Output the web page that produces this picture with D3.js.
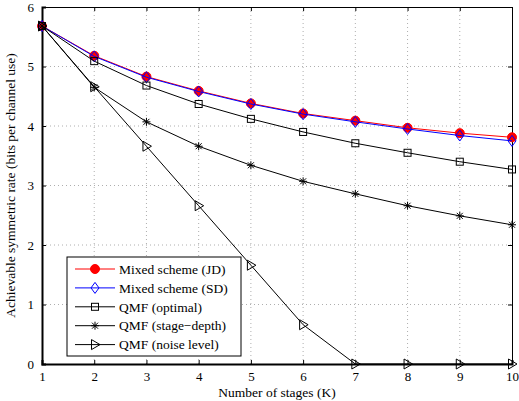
<!DOCTYPE html>
<html>
<head>
<meta charset="utf-8">
<script src="https://cdn.jsdelivr.net/npm/d3@7"></script>
<style>
  body { margin: 0; background: #fff; }
  svg { display: block; font-family: "Liberation Serif", "Times New Roman", serif; }
</style>
</head>
<body>
<svg id="chart" width="519" height="401"></svg>
<script>
const stages = [1, 2, 3, 4, 5, 6, 7, 8, 9, 10];
const mixedJD = [5.68, 5.18, 4.83, 4.59, 4.38, 4.21, 4.09, 3.97, 3.88, 3.81];
const mixedSD = [5.68, 5.17, 4.82, 4.58, 4.37, 4.20, 4.07, 3.95, 3.84, 3.75];
const qmfOptimal = [5.68, 5.09, 4.68, 4.37, 4.12, 3.90, 3.71, 3.55, 3.40, 3.27];
const qmfStageDepth = [5.68, 4.65, 4.07, 3.66, 3.34, 3.07, 2.86, 2.66, 2.49, 2.34];
const qmfNoiseLevel = [5.68, 4.66, 3.66, 2.66, 1.66, 0.66, 0, 0, 0, 0];
const yTicks = [0, 1, 2, 3, 4, 5, 6];

const series = [
  { name: 'Mixed scheme (JD)', values: mixedJD, color: 'red', marker: 'circle' },
  { name: 'Mixed scheme (SD)', values: mixedSD, color: 'blue', marker: 'diamond' },
  { name: 'QMF (optimal)', values: qmfOptimal, color: 'black', marker: 'square' },
  { name: 'QMF (stage\u2212depth)', values: qmfStageDepth, color: 'black', marker: 'star' },
  { name: 'QMF (noise level)', values: qmfNoiseLevel, color: 'black', marker: 'triangle' }
];

const margin = { top: 7, right: 7, bottom: 37, left: 42 };
const width = 519, height = 401;

const svg = d3.select('#chart');

const x = d3.scaleLinear()
  .domain([1, 10])
  .range([margin.left, width - margin.right]);

const y = d3.scaleLinear()
  .domain([0, 6])
  .range([height - margin.bottom, margin.top]);

// grid
const grid = svg.append('g')
  .attr('stroke', '#999')
  .attr('stroke-width', 0.8)
  .attr('stroke-dasharray', '1,3');

grid.selectAll('.vg')
  .data(stages.slice(1, -1))
  .join('line')
  .attr('x1', d => x(d)).attr('x2', d => x(d))
  .attr('y1', y(0)).attr('y2', y(6));

grid.selectAll('.hg')
  .data(yTicks.slice(1, -1))
  .join('line')
  .attr('x1', x(1)).attr('x2', x(10))
  .attr('y1', d => y(d)).attr('y2', d => y(d));

// axes with inward ticks
const xAxis = svg.append('g')
  .attr('transform', `translate(0,${y(0)})`)
  .call(d3.axisBottom(x).tickValues(stages).tickFormat(d3.format('d')).tickSize(-4).tickPadding(8));

const xAxisTop = svg.append('g')
  .attr('transform', `translate(0,${y(6)})`)
  .call(d3.axisTop(x).tickValues(stages).tickSize(-4).tickFormat(''));

const yAxis = svg.append('g')
  .attr('transform', `translate(${x(1)},0)`)
  .call(d3.axisLeft(y).tickValues(yTicks).tickFormat(d3.format('d')).tickSize(-4).tickPadding(8));

const yAxisRight = svg.append('g')
  .attr('transform', `translate(${x(10)},0)`)
  .call(d3.axisRight(y).tickValues(yTicks).tickSize(-4).tickFormat(''));

[xAxis, xAxisTop, yAxis, yAxisRight].forEach(a => {
  a.attr('font-family', null).attr('font-size', null);
  a.select('.domain').attr('stroke', '#000').attr('stroke-width', 1);
  a.selectAll('.tick line').attr('stroke', '#000');
  a.selectAll('text')
    .attr('fill', '#000')
    .style('font-size', '13px');
});

// thicker bottom and left edges like the reference
xAxis.select('.domain').attr('stroke-width', 2);
yAxis.select('.domain').attr('stroke-width', 2);

// axis labels
svg.append('text')
  .attr('x', (x(1) + x(10)) / 2)
  .attr('y', height - 4)
  .attr('text-anchor', 'middle')
  .style('font-size', '13.5px')
  .text('Number of stages (K)');

svg.append('text')
  .attr('transform', `translate(15,${(y(0) + y(6)) / 2}) rotate(-90)`)
  .attr('text-anchor', 'middle')
  .style('font-size', '13.5px')
  .text('Achievable symmetric rate (bits per channel use)');

// markers
function drawMarker(g, type, color) {
  if (type === 'circle') {
    g.append('circle').attr('r', 4.5).attr('fill', color).attr('stroke', color);
  } else if (type === 'diamond') {
    g.append('path').attr('d', 'M0,-5.5L4,0L0,5.5L-4,0Z')
      .attr('fill', 'none').attr('stroke', color).attr('stroke-width', 1);
  } else if (type === 'square') {
    g.append('rect').attr('x', -3.5).attr('y', -3.5).attr('width', 7).attr('height', 7)
      .attr('fill', 'none').attr('stroke', color).attr('stroke-width', 1);
  } else if (type === 'star') {
    g.append('path')
      .attr('d', 'M-4,0L4,0M0,-4L0,4M-3,-3L3,3M-3,3L3,-3')
      .attr('stroke', color).attr('stroke-width', 1);
  } else if (type === 'triangle') {
    g.append('path').attr('d', 'M-3.5,-5L5,0L-3.5,5Z')
      .attr('fill', 'none').attr('stroke', color).attr('stroke-width', 1);
  }
}

const line = d3.line()
  .x((d, i) => x(stages[i]))
  .y(d => y(d));

const plot = svg.append('g');

series.forEach(s => {
  plot.append('path')
    .datum(s.values)
    .attr('fill', 'none')
    .attr('stroke', s.color)
    .attr('stroke-width', 1)
    .attr('d', line);

  plot.selectAll(null)
    .data(s.values)
    .join('g')
    .attr('transform', (d, i) => `translate(${x(stages[i])},${y(d)})`)
    .each(function() { drawMarker(d3.select(this), s.marker, s.color); });
});

// legend
const legend = svg.append('g').attr('transform', 'translate(67,257)');
legend.append('rect')
  .attr('width', 174).attr('height', 99)
  .attr('fill', '#fff').attr('stroke', '#000').attr('stroke-width', 1);

series.forEach((s, i) => {
  const row = legend.append('g').attr('transform', `translate(0,${12 + i * 18.9})`);
  row.append('line')
    .attr('x1', 8).attr('x2', 48)
    .attr('stroke', s.color).attr('stroke-width', 1);
  drawMarker(row.append('g').attr('transform', 'translate(28,0)'), s.marker, s.color);
  row.append('text')
    .attr('x', 52).attr('dy', '0.35em')
    .style('font-size', '13.5px')
    .text(s.name);
});
</script>
</body>
</html>
